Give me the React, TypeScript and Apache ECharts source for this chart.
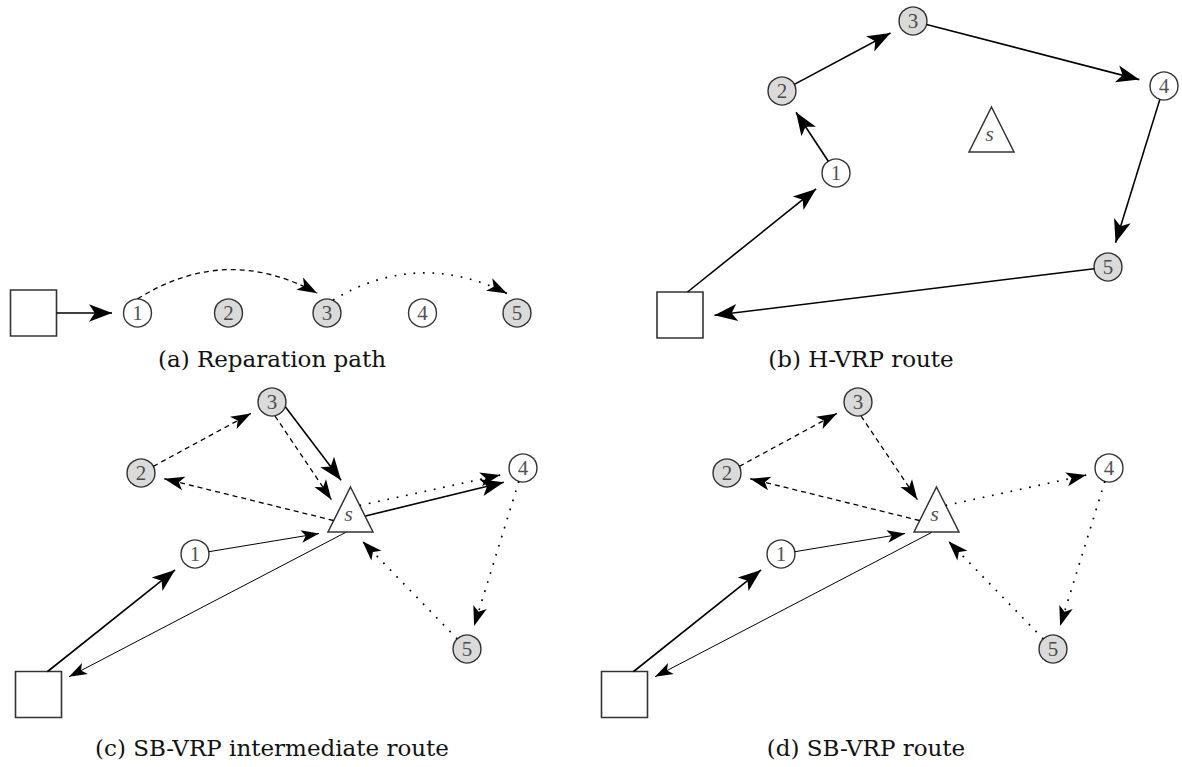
import React, { useEffect, useRef } from 'react';
import * as echarts from 'echarts';

type Pt = [number, number];
type Edge = [string, string, string];

// ---------------- data ----------------
const captionTexts = [
  '(a) Reparation path',
  '(b) H-VRP route',
  '(c) SB-VRP intermediate route',
  '(d) SB-VRP route',
];

// panel (a): reparation path
const idsA = ['D', '1', '2', '3', '4', '5'];
const kindsA = ['depot', 'open', 'shaded', 'shaded', 'open', 'shaded'];
const xA = [33.5, 137.5, 228.5, 327, 422.5, 517];
const yA = [73, 73, 73, 73, 73, 73];

// panel (b): H-VRP route
const idsB = ['D', '1', '2', '3', '4', '5', 's'];
const kindsB = ['depot', 'open', 'shaded', 'shaded', 'open', 'shaded', 'station'];
const xB = [80, 236, 182, 313, 564, 508, 391.5];
const yB = [315, 173, 91, 21, 86, 267, 129.5];

// panels (c) and (d): SB-VRP routes (same node layout)
const idsC = ['D', '1', '2', '3', '4', '5', 's'];
const kindsC = ['depot', 'open', 'shaded', 'shaded', 'open', 'shaded', 'station'];
const xC = [38.5, 195, 141, 272, 523, 467, 350.5];
const yC = [314.5, 174, 93, 22, 88, 269, 129.5];

const edgesA: Edge[] = [
  ['D', '1', 'solid'],
  ['1', '3', 'dashed'],
  ['3', '5', 'dotted'],
];
const edgesB: Edge[] = [
  ['D', '1', 'solid'],
  ['1', '2', 'solid'],
  ['2', '3', 'solid'],
  ['3', '4', 'solid'],
  ['4', '5', 'solid'],
  ['5', 'D', 'solid'],
];
const edgesC: Edge[] = [
  ['D', '1', 'solid'],
  ['1', 's', 'thin'],
  ['s', 'D', 'thin'],
  ['3', 's', 'solid'],
  ['s', '4', 'solid'],
  ['2', '3', 'dashed'],
  ['3', 's', 'dashed'],
  ['s', '2', 'dashed'],
  ['s', '4', 'dotted'],
  ['4', '5', 'dotted'],
  ['5', 's', 'dotted'],
];
const edgesD: Edge[] = [
  ['D', '1', 'solid'],
  ['1', 's', 'thin'],
  ['s', 'D', 'thin'],
  ['2', '3', 'dashed'],
  ['3', 's', 'dashed'],
  ['s', '2', 'dashed'],
  ['s', '4', 'dotted'],
  ['4', '5', 'dotted'],
  ['5', 's', 'dotted'],
];

// ---------------- layout / style ----------------
const CIRCLE_R = 14;
const DEPOT_SIZE = 46;
const STATION_SIZE = 45;

const captionPos: Pt[] = [
  [272, 359],
  [861, 359],
  [272, 748],
  [866, 748],
];

const edgeStyles: Record<string, { width: number; type: any; arrow: Pt; cap: string }> = {
  solid: { width: 1.6, type: 'solid', arrow: [13, 23], cap: 'butt' },
  thin: { width: 1.0, type: 'solid', arrow: [9.5, 18], cap: 'butt' },
  dashed: { width: 1.3, type: [5, 4], arrow: [10.5, 20], cap: 'butt' },
  dotted: { width: 1.7, type: [1.7, 7.8], arrow: [10.5, 20], cap: 'butt' },
};

type Anchor = { from?: Pt; to?: Pt; curve?: number };
const anchorsA: Record<string, Anchor> = {
  'D>1:solid': { from: [23, 0] },
  '1>3:dashed': { from: [0, -14], to: [-1, -15], curve: 0.28 },
  '3>5:dotted': { from: [6, -13], to: [-1, -15], curve: 0.26 },
};
const anchorsB: Record<string, Anchor> = {
  'D>1:solid': { from: [7.5, -23] },
  '5>D:solid': { to: [23, 1.7] },
};
const anchorsCD: Record<string, Anchor> = {
  'D>1:solid': { from: [8.5, -22.5] },
  '1>s:thin': { to: [-22.5, 22.5] },
  's>D:thin': { from: [-5, 23], to: [22.5, -13.5] },
  '3>s:solid': { from: [13.5, 5], to: [-2.5, -20] },
  's>4:solid': { from: [15, 6.5], to: [-8, 11.5] },
  '3>s:dashed': { from: [3, 14], to: [-13.5, -1.5] },
  's>2:dashed': { from: [-17, 11] },
  's>4:dotted': { from: [9, -4], to: [-13, 5] },
  '5>s:dotted': { to: [5, 24.5] },
};

const panels = [
  { grid: { left: 0, top: 240, width: 580, height: 140 }, ids: idsA, kinds: kindsA, xs: xA, ys: yA, edges: edgesA, anchors: anchorsA },
  { grid: { left: 600, top: 0, width: 582, height: 380 }, ids: idsB, kinds: kindsB, xs: xB, ys: yB, edges: edgesB, anchors: anchorsB },
  { grid: { left: 0, top: 380, width: 590, height: 387 }, ids: idsC, kinds: kindsC, xs: xC, ys: yC, edges: edgesC, anchors: anchorsCD },
  { grid: { left: 586, top: 380, width: 590, height: 387 }, ids: idsC, kinds: kindsC, xs: xC, ys: yC, edges: edgesD, anchors: anchorsCD },
];

// ---------------- geometry helpers ----------------
const sub = (a: Pt, b: Pt): Pt => [a[0] - b[0], a[1] - b[1]];
const add = (a: Pt, b: Pt): Pt => [a[0] + b[0], a[1] + b[1]];
const unit = (a: Pt): Pt => {
  const l = Math.hypot(a[0], a[1]) || 1;
  return [a[0] / l, a[1] / l];
};

function rayPoly(c: Pt, d: Pt, verts: Pt[]): Pt {
  let best = Infinity;
  for (let i = 0; i < verts.length; i++) {
    const a = add(c, verts[i]);
    const b = add(c, verts[(i + 1) % verts.length]);
    const ex = b[0] - a[0];
    const ey = b[1] - a[1];
    const den = d[0] * ey - d[1] * ex;
    if (Math.abs(den) < 1e-9) continue;
    const wx = a[0] - c[0];
    const wy = a[1] - c[1];
    const t = (wx * ey - wy * ex) / den;
    const s = (wx * d[1] - wy * d[0]) / den;
    if (t > 0 && s >= 0 && s <= 1 && t < best) best = t;
  }
  if (!isFinite(best)) best = 0;
  return [c[0] + d[0] * best, c[1] + d[1] * best];
}

function boundary(kind: string, c: Pt, d: Pt): Pt {
  if (kind === 'depot') {
    const h = DEPOT_SIZE / 2;
    const t = h / Math.max(Math.abs(d[0]), Math.abs(d[1]));
    return [c[0] + d[0] * t, c[1] + d[1] * t];
  }
  if (kind === 'station') {
    const h = STATION_SIZE / 2;
    return rayPoly(c, d, [[0, -h], [h, h], [-h, h]]);
  }
  return [c[0] + d[0] * CIRCLE_R, c[1] + d[1] * CIRCLE_R];
}

// ---------------- option ----------------
function buildOption() {
  const grid: any[] = [];
  const xAxis: any[] = [];
  const yAxis: any[] = [];
  const series: any[] = [];

  panels.forEach((p, gi) => {
    grid.push({ ...p.grid, containLabel: false, show: false });
    xAxis.push({ type: 'value', gridIndex: gi, min: 0, max: p.grid.width, show: false });
    yAxis.push({ type: 'value', gridIndex: gi, min: 0, max: p.grid.height, inverse: true, show: false });

    const center = (id: string): Pt => {
      const i = p.ids.indexOf(id);
      return [p.xs[i], p.ys[i]];
    };
    const kindOf = (id: string) => p.kinds[p.ids.indexOf(id)];

    p.edges.forEach(([from, to, style]) => {
      const key = `${from}>${to}:${style}`;
      const an: Anchor = (p.anchors as any)[key] || {};
      const A = center(from);
      const B = center(to);
      const pa = an.from ? add(A, an.from) : null;
      const pb = an.to ? add(B, an.to) : null;
      const refA = pa || A;
      const refB = pb || B;
      const start = pa || boundary(kindOf(from), A, unit(sub(refB, A)));
      const end = pb || boundary(kindOf(to), B, unit(sub(refA, B)));
      const st = edgeStyles[style];
      const curve = an.curve || 0;
      let tangent: Pt;
      if (curve) {
        const mid: Pt = [(start[0] + end[0]) / 2, (start[1] + end[1]) / 2];
        const ctrl: Pt = [mid[0] + curve * (end[1] - start[1]), mid[1] + curve * (start[0] - end[0])];
        tangent = unit(sub(end, ctrl));
      } else {
        tangent = unit(sub(end, start));
      }
      const half = st.arrow[1] / 2;
      const endS: Pt = [end[0] - tangent[0] * half, end[1] - tangent[1] * half];
      let curveness = curve;
      if (curve) {
        const L0 = Math.hypot(end[0] - start[0], end[1] - start[1]);
        const L1 = Math.hypot(endS[0] - start[0], endS[1] - start[1]);
        curveness = (curve * L0) / L1;
      }
      series.push({
        type: 'lines',
        coordinateSystem: 'cartesian2d',
        xAxisIndex: gi,
        yAxisIndex: gi,
        z: 2,
        silent: true,
        symbol: ['none', 'arrow'],
        symbolSize: [0, [st.arrow[0], st.arrow[1]]],
        lineStyle: {
          color: '#000',
          width: st.width,
          type: st.type,
          curveness,
          opacity: 1,
          cap: st.cap,
        },
        data: [{ coords: [start, endS] }],
      });
    });

    series.push({
      type: 'scatter',
      xAxisIndex: gi,
      yAxisIndex: gi,
      z: 3,
      silent: true,
      data: p.ids.map((id, i) => {
        const kind = p.kinds[i];
        const base: any = { name: id, value: [p.xs[i], p.ys[i]] };
        if (kind === 'depot') {
          return {
            ...base,
            symbol: 'rect',
            symbolSize: DEPOT_SIZE,
            itemStyle: { color: '#fff', borderColor: '#000', borderWidth: 1.6 },
            label: { show: false },
          };
        }
        if (kind === 'station') {
          return {
            ...base,
            symbol: 'triangle',
            symbolSize: STATION_SIZE,
            itemStyle: { color: '#fff', borderColor: '#000', borderWidth: 1.5 },
            label: {
              show: true,
              position: 'inside',
              formatter: id,
              fontFamily: 'Liberation Serif',
              fontStyle: 'italic',
              fontSize: 22,
              color: '#222',
              offset: [-2, 4],
            },
          };
        }
        return {
          ...base,
          symbol: 'circle',
          symbolSize: CIRCLE_R * 2,
          itemStyle: {
            color: kind === 'shaded' ? '#d1d1d1' : '#fff',
            borderColor: '#000',
            borderWidth: 1.4,
          },
          label: {
            show: true,
            position: 'inside',
            formatter: id,
            fontFamily: 'Liberation Serif',
            fontSize: 21,
            color: '#222',
          },
        };
      }),
    });
  });

  return {
    animation: false,
    backgroundColor: '#fff',
    grid,
    xAxis,
    yAxis,
    series,
    graphic: captionTexts.map((t, i) => ({
      type: 'text',
      x: captionPos[i][0],
      y: captionPos[i][1],
      silent: true,
      style: {
        text: t,
        align: 'center',
        verticalAlign: 'middle',
        fontFamily: 'DejaVu Serif',
        fontSize: 23,
        fill: '#111',
      },
    })),
  };
}

export default function App() {
  const ref = useRef<HTMLDivElement>(null);
  useEffect(() => {
    if (!ref.current) return;
    const chart = echarts.init(ref.current, null, { renderer: 'svg' });
    chart.setOption(buildOption() as any);
    return () => chart.dispose();
  }, []);
  return (
    <div
      ref={ref}
      style={{ position: 'absolute', left: 0, top: 0, width: 1182, height: 767, background: '#fff' }}
    />
  );
}
